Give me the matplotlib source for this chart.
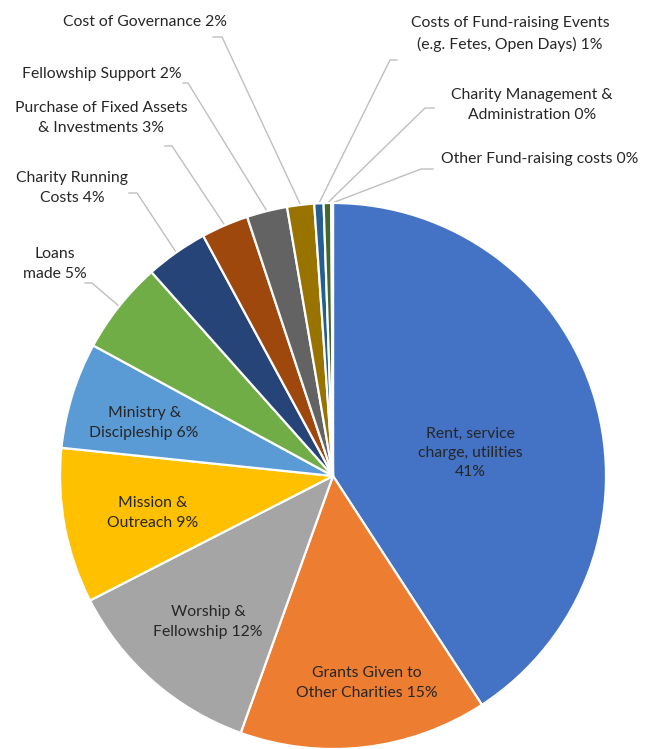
import numpy as np
import matplotlib
matplotlib.use("Agg")
import matplotlib.pyplot as plt

# data
labels = ["Rent, service\ncharge, utilities\n41%",
          "Grants Given to\nOther Charities 15%",
          "Worship &\nFellowship 12%",
          "Mission &\nOutreach 9%",
          "Ministry &\nDiscipleship 6%",
          "Loans\nmade 5%",
          "Charity Running\nCosts 4%",
          "Purchase of Fixed Assets\n& Investments 3%",
          "Fellowship Support 2%",
          "Cost of Governance 2%",
          "Costs of Fund-raising Events\n(e.g. Fetes, Open Days) 1%",
          "Charity Management &\nAdministration 0%",
          "Other Fund-raising costs 0%"]
values = [40.9, 14.7, 12.0, 9.2, 6.3, 5.5, 3.7, 2.8, 2.4, 1.6, 0.55, 0.45, 0.1]
colors = ["#4472C4", "#ED7D31", "#A5A5A5", "#FFC000", "#5B9BD5", "#70AD47",
          "#264478", "#9E480E", "#636363", "#997300", "#255E91", "#43682B", "#698ED0"]

W, H = 653, 749
fig = plt.figure(figsize=(W/100, H/100), dpi=100)
ax = fig.add_axes([0, 0, 1, 1])

cx, cy, R = 333, H-476, 273
wedges, _ = ax.pie(values, colors=colors, startangle=90, counterclock=False,
                   center=(cx, cy), radius=R, frame=True,
                   wedgeprops=dict(edgecolor="white", linewidth=1.6))
ax.set_xlim(0, W)
ax.set_ylim(0, H)
ax.set_aspect("equal")
ax.axis("off")

font = dict(family=["Lato", "DejaVu Sans"], fontsize=11.3, color="#262626",
            linespacing=1.5)

# labels inside the big slices (pixel positions, y from top)
inside = {0: (470, 453), 1: (367, 683), 2: (208, 622), 3: (153, 513), 4: (144, 423)}
for i, (x, y) in inside.items():
    ax.text(x, H-y, labels[i], ha="center", va="center", **font)

# outside labels: text centre, elbow start, elbow end
outside = {
    5: ((55, 264), (85, 283), (92, 283)),
    6: ((72, 188), (129, 193), (137, 193)),
    7: ((101, 118), (165, 146), (172, 146)),
    8: ((102, 74), (183, 83), (188, 83)),
    9: ((145, 22), (213, 37), (222, 37)),
    10: ((510, 34), (397, 60), (390, 60)),
    11: ((532, 105), (434, 108), (425, 108)),
    12: ((540, 159), (433, 169), (421, 169)),
}
for i, ((tx, ty), (ax0, ay0), (ax1, ay1)) in outside.items():
    ax.text(tx, H-ty, labels[i], ha="center", va="center", **font)
    w = wedges[i]
    mid = np.deg2rad((w.theta1 + w.theta2) / 2)
    ex, ey = cx + R*np.cos(mid), cy + R*np.sin(mid)
    ax.plot([ax0, ax1, ex], [H-ay0, H-ay1, ey], color="#BFBFBF", lw=1.0,
            zorder=0.5)

fig.savefig("out.png", dpi=100, facecolor="white")
